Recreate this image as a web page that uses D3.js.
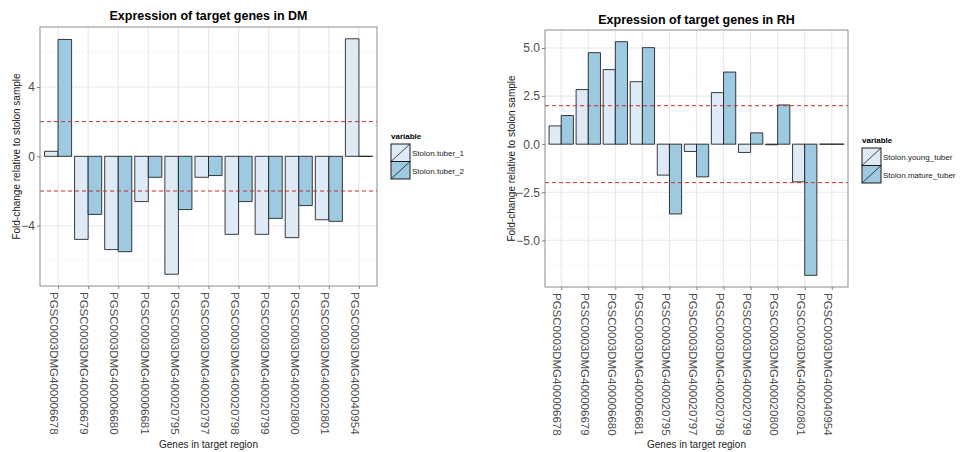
<!DOCTYPE html>
<html><head><meta charset="utf-8">
<script src="https://cdn.jsdelivr.net/npm/d3@7"></script>
<style>body{margin:0;background:#fff}svg{display:block}</style>
</head><body>
<svg id="c" width="960" height="452"></svg>
<script>
const genes = ["PGSC0003DMG400006678","PGSC0003DMG400006679","PGSC0003DMG400006680","PGSC0003DMG400006681","PGSC0003DMG400020795","PGSC0003DMG400020797","PGSC0003DMG400020798","PGSC0003DMG400020799","PGSC0003DMG400020800","PGSC0003DMG400020801","PGSC0003DMG400040954"];
const dmSeries = ["Stolon.tuber_1","Stolon.tuber_2"];
const dmTuber1 = [0.29,-4.79,-5.38,-2.61,-6.80,-1.21,-4.50,-4.50,-4.69,-3.66,6.78];
const dmTuber2 = [6.74,-3.35,-5.50,-1.21,-3.07,-1.11,-2.61,-3.58,-2.84,-3.75,0];
const rhSeries = ["Stolon.young_tuber","Stolon.mature_tuber"];
const rhYoung = [0.95,2.84,3.88,3.25,-1.61,-0.38,2.68,-0.43,-0.03,-1.96,0];
const rhMature = [1.49,4.76,5.33,5.02,-3.63,-1.70,3.75,0.59,2.04,-6.82,0];
const dmTicks = [-4,0,4];
const dmMinor = [-6,-2,2,6];
const rhTicks = [-5,-2.5,0,2.5,5];
const rhMinor = [-6.25,-3.75,-1.25,1.25,3.75];
const thresholds = [-2,2];
const fills = ["#deebf7","#9ecae1"];

const svg = d3.select("#c");
const FONT = "Liberation Sans, Arial, sans-serif";

function panel(o){
  const g = svg.append("g");
  const all = o.s1.concat(o.s2);
  const lo = d3.min(all), hi = d3.max(all);
  const pad = (hi-lo)*0.05;
  const y = d3.scaleLinear().domain([lo-pad, hi+pad]).range([o.y1, o.y0]);
  const n = genes.length;
  const unit = (o.x1-o.x0)/(n-1+1.2);
  const cx = d3.scalePoint().domain(genes).range([o.x0+0.6*unit, o.x1-0.6*unit]);
  // grid
  g.selectAll(".mn").data(o.minor).join("line")
    .attr("x1",o.x0).attr("x2",o.x1).attr("y1",d=>y(d)).attr("y2",d=>y(d))
    .attr("stroke","#f5f5f5").attr("stroke-width",0.6);
  g.selectAll(".mj").data(o.ticks).join("line")
    .attr("x1",o.x0).attr("x2",o.x1).attr("y1",d=>y(d)).attr("y2",d=>y(d))
    .attr("stroke","#e8e8e8").attr("stroke-width",1.1);
  g.selectAll(".vg").data(genes).join("line")
    .attr("x1",d=>cx(d)).attr("x2",d=>cx(d)).attr("y1",o.y0).attr("y2",o.y1)
    .attr("stroke","#e8e8e8").attr("stroke-width",1.1);
  // bars
  const bw = 0.45*unit;
  [o.s1, o.s2].forEach((vals,si)=>{
    g.selectAll(".b"+si).data(vals).join("path")
      .attr("d",(v,i)=>{
        const xl = cx(genes[i]) - bw + si*bw;
        const ya = y(0), yb = y(v);
        return `M${xl},${ya}H${xl+bw}V${yb}H${xl}Z`;
      })
      .attr("fill",fills[si]).attr("stroke","#1a1a1a").attr("stroke-width",1)
      .attr("stroke-opacity",0.85);
  });
  // thresholds
  g.selectAll(".th").data(thresholds).join("line")
    .attr("x1",o.x0).attr("x2",o.x1).attr("y1",d=>y(d)).attr("y2",d=>y(d))
    .attr("stroke","#cc2a2a").attr("stroke-width",1).attr("stroke-dasharray","4,3");
  // border
  g.append("rect").attr("x",o.x0).attr("y",o.y0).attr("width",o.x1-o.x0).attr("height",o.y1-o.y0)
    .attr("fill","none").attr("stroke","#8c8c8c").attr("stroke-width",1);
  // y axis
  const ya = d3.axisLeft(y).tickValues(o.ticks).tickSize(3).tickPadding(2).tickFormat(o.fmt);
  const yg = g.append("g").attr("transform",`translate(${o.x0},0)`).call(ya);
  yg.select(".domain").remove();
  yg.selectAll(".tick line").attr("stroke","#7f7f7f");
  yg.selectAll(".tick text").attr("font-family",FONT).attr("font-size",12).attr("fill","#4d4d4d");
  // x axis
  const xa = d3.axisBottom(cx).tickSize(3).tickPadding(0);
  const xg = g.append("g").attr("transform",`translate(0,${o.y1})`).call(xa);
  xg.select(".domain").remove();
  xg.selectAll(".tick line").attr("stroke","#7f7f7f");
  xg.selectAll(".tick text").attr("font-family",FONT).attr("font-size",11.5).attr("fill","#4d4d4d")
    .attr("transform","rotate(90)").attr("text-anchor","start").attr("dy","0.72em").attr("x",6).attr("y",0);
  // titles
  g.append("text").attr("x",(o.x0+o.x1)/2).attr("y",o.ty).attr("text-anchor","middle")
    .attr("font-family",FONT).attr("font-weight","bold").attr("font-size",12.5).text(o.title);
  g.append("text").attr("transform",`translate(${o.ylx},${(o.y0+o.y1)/2}) rotate(-90)`)
    .attr("text-anchor","middle").attr("font-family",FONT).attr("font-size",10).attr("fill","#1a1a1a")
    .text("Fold-change relative to stolon sample");
  g.append("text").attr("x",(o.x0+o.x1)/2).attr("y",448).attr("text-anchor","middle")
    .attr("font-family",FONT).attr("font-size",10).attr("fill","#1a1a1a").text("Genes in target region");
  // legend
  const lg = g.append("g").attr("transform",`translate(${o.lx},${o.ly})`);
  lg.append("text").attr("x",0).attr("y",0).attr("font-family",FONT).attr("font-weight","bold")
    .attr("font-size",8).text("variable");
  o.names.forEach((nm,i)=>{
    const ky = 5 + i*17.5;
    lg.append("rect").attr("x",0).attr("y",ky).attr("width",19).attr("height",17.5)
      .attr("fill",fills[i]).attr("stroke","#1a1a1a").attr("stroke-width",1);
    lg.append("line").attr("x1",0).attr("y1",ky+17.5).attr("x2",19).attr("y2",ky)
      .attr("stroke","#1a1a1a").attr("stroke-width",0.8);
    lg.append("text").attr("x",21).attr("y",ky+12).attr("font-family",FONT).attr("font-size",8)
      .attr("fill","#1a1a1a").text(nm);
  });
}

panel({x0:40,x1:377,y0:27,y1:286,s1:dmTuber1,s2:dmTuber2,ticks:dmTicks,minor:dmMinor,
  fmt:d3.format("d"),title:"Expression of target genes in DM",ty:20,ylx:20,lx:391,ly:139,names:dmSeries});
panel({x0:545,x1:848,y0:30,y1:287,s1:rhYoung,s2:rhMature,ticks:rhTicks,minor:rhMinor,
  fmt:d3.format(".1f"),title:"Expression of target genes in RH",ty:24,ylx:515,lx:862,ly:143,names:rhSeries});
</script>
</body></html>
